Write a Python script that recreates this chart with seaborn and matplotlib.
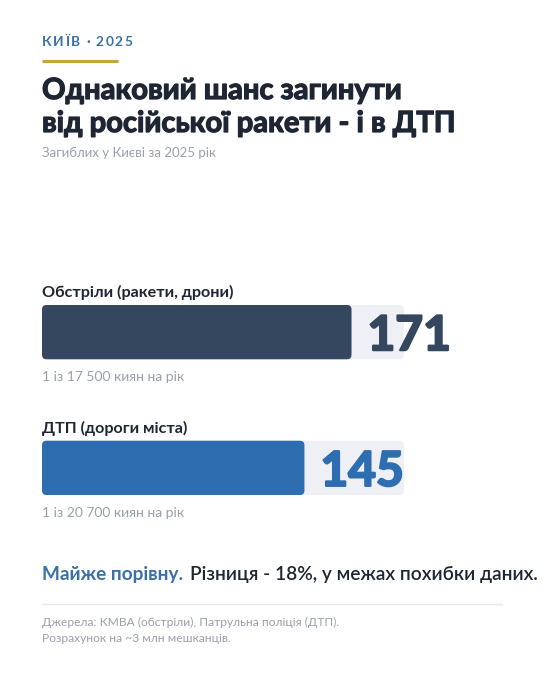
import matplotlib
matplotlib.use("Agg")
import matplotlib.pyplot as plt
import matplotlib.patheffects as pe
import seaborn as sns
import pandas as pd
from matplotlib.patches import FancyBboxPatch

# ---- data ----
categories = ["Обстріли (ракети, дрони)", "ДТП (дороги міста)"]
deaths = [171, 145]
ratio_labels = ["1 із 17 500 киян на рік", "1 із 20 700 киян на рік"]
scale_max = 200
kicker = "КИЇВ · 2025"
title_lines = ["Однаковий шанс загинути", "від російської ракети - і в ДТП"]
subtitle = "Загиблих у Києві за 2025 рік"
note_lead = "Майже порівну."
note_rest = "Різниця - 18%, у межах похибки даних."
sources = ["Джерела: КМВА (обстріли), Патрульна поліція (ДТП).",
           "Розрахунок на ~3 млн мешканців."]

bar_colors = ["#34475f", "#2f6db1"]
track_color = "#eef0f5"
dark = "#1e2633"
gray = "#9aa0a8"
blue_txt = "#3a70a8"
gold = "#c9a531"

sns.set_theme(style="white")
plt.rcParams["font.family"] = ["Lato", "Noto Sans", "DejaVu Sans"]

W, H = 544, 680
fig = plt.figure(figsize=(W / 100, H / 100), dpi=100)
fig.patch.set_facecolor("white")

ov = fig.add_axes([0, 0, 1, 1])
ov.set_xlim(0, W)
ov.set_ylim(H, 0)
ov.axis("off")

x0, x1 = 42, 404
y_top, y_bot = 305, 495
bar_h = 0.4
ax = fig.add_axes([x0 / W, 1 - y_bot / H, (x1 - x0) / W, (y_bot - y_top) / H])
ax.patch.set_alpha(0)

df = pd.DataFrame({"cat": categories, "val": deaths, "track": [scale_max] * len(categories)})
sns.barplot(data=df, y="cat", x="track", color=track_color, width=bar_h, ax=ax,
            orient="h", saturation=1)
sns.barplot(data=df, y="cat", x="val", hue="cat", palette=bar_colors, width=bar_h,
            ax=ax, orient="h", legend=False, saturation=1)
ax.set_xlim(0, scale_max)
ax.set_ylim(1 + bar_h / 2, -bar_h / 2)
ax.axis("off")

px_per_x = (x1 - x0) / scale_max
px_per_y = (y_bot - y_top) / (1 + bar_h)
radius_px = 4.5
r_x = radius_px / px_per_x
aspect = px_per_x / px_per_y
for p in list(ax.patches):
    bx, by = p.get_x(), p.get_y()
    bw, bh = p.get_width(), p.get_height()
    fc = p.get_facecolor()
    z = p.get_zorder()
    p.remove()
    ax.add_patch(FancyBboxPatch((bx, by), bw, bh,
                                boxstyle=f"round,pad=0,rounding_size={r_x}",
                                mutation_aspect=aspect, facecolor=fc, edgecolor="none",
                                zorder=z))

heavy = lambda c, w: [pe.Stroke(linewidth=w, foreground=c), pe.Normal()]

for i, v in enumerate(deaths):
    ax.annotate(str(v), xy=(v, i), xytext=(11.5, 0), textcoords="offset points",
                ha="left", va="center_baseline", fontsize=34.5, fontweight="bold",
                color=bar_colors[i], clip_on=False,
                path_effects=heavy(bar_colors[i], 1.6))

# kicker with letter spacing
prev = ov.text(42, 46, kicker[0], fontsize=9.8, fontweight="bold", color=blue_txt,
               va="baseline", ha="left")
for ch in kicker[1:]:
    prev = ov.annotate(ch, xy=(1, 0), xycoords=prev, xytext=(1.05, 0),
                       textcoords="offset points", fontsize=9.8, fontweight="bold",
                       color=blue_txt, va="bottom", ha="left")

ov.plot([42, 118], [60.5, 60.5], color=gold, lw=2.3, solid_capstyle="butt")
for j, line in enumerate(title_lines):
    ov.text(42, 99 + 33 * j, line, fontsize=21, fontweight="bold", color=dark,
            va="baseline", path_effects=heavy(dark, 0.9))
ov.text(42, 157, subtitle, fontsize=9.5, color=gray, va="baseline")

label_y = [297, 433]
ratio_y = [381, 517]
for i in range(len(categories)):
    ov.text(42, label_y[i], categories[i], fontsize=11.6, fontweight="bold", color=dark,
            va="baseline")
    ov.text(42, ratio_y[i], ratio_labels[i], fontsize=10, color=gray, va="baseline")

t1 = ov.text(42, 580, note_lead, fontsize=13.7, fontweight="bold", color=blue_txt,
             va="baseline")
ov.annotate(note_rest, xy=(1, 0), xycoords=t1, xytext=(5, 0), textcoords="offset points",
            fontsize=13.8, fontweight="semibold", color=dark, va="bottom", ha="left")

ov.plot([42, 502], [604, 604], color="#e6e8eb", lw=1)
ov.text(42, 626, sources[0], fontsize=8.65, color=gray, va="baseline")
ov.text(42, 642, sources[1], fontsize=8.65, color=gray, va="baseline")

fig.savefig("out.png", dpi=100, facecolor="white")
